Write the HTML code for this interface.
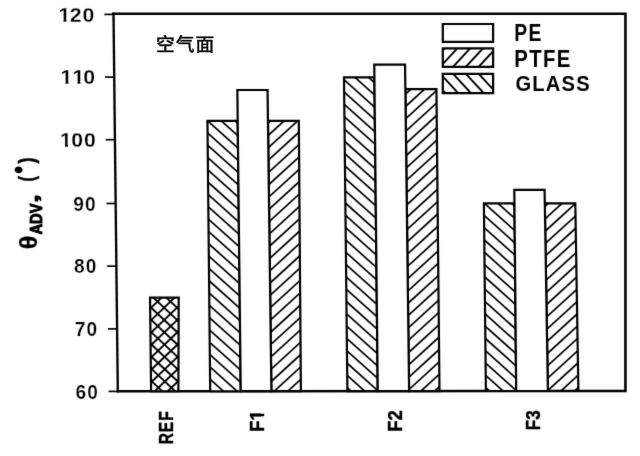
<!DOCTYPE html>
<html lang="zh">
<head>
<meta charset="utf-8">
<title>θADV chart</title>
<style>
html,body{margin:0;padding:0;background:#fff;}
body{width:640px;height:456px;overflow:hidden;}
svg{display:block;}
text{white-space:pre;font-kerning:none;}
</style>
</head>
<body>
<svg width="640" height="456" viewBox="0 0 640 456">
<defs><filter id="soft" x="0" y="0" width="640" height="456" filterUnits="userSpaceOnUse" color-interpolation-filters="sRGB"><feConvolveMatrix order="3" kernelMatrix="0 1 0 1 7 1 0 1 0" edgeMode="duplicate" preserveAlpha="true"/></filter></defs>
<rect width="640" height="456" fill="#fff"/>
<g filter="url(#soft)">
<rect width="640" height="456" fill="#fff"/>
<path d="M112.4,13.75L625.45,13.75L625.45,390.9L116.7,391.3" fill="none" stroke="#000" stroke-width="2.6" stroke-linejoin="miter"/>
<path d="M113.5,13.75L117.8,391.3" fill="none" stroke="#000" stroke-width="2.35" stroke-linecap="square"/>
<path d="M104.31,14.4L113.51,14.4" stroke="#000" stroke-width="1.7"/>
<path d="M105.02,77.1L114.22,77.1" stroke="#000" stroke-width="1.7"/>
<path d="M105.73,139.7L114.93,139.7" stroke="#000" stroke-width="1.7"/>
<path d="M106.46,203.5L115.66,203.5" stroke="#000" stroke-width="1.7"/>
<path d="M107.17,266.1L116.37,266.1" stroke="#000" stroke-width="1.7"/>
<path d="M107.89,328.9L117.09,328.9" stroke="#000" stroke-width="1.7"/>
<path d="M108.60,391.4L117.80,391.4" stroke="#000" stroke-width="1.7"/>
<clipPath id="k1"><path clip-rule="evenodd" d="M-20.4,-40.8H54.8V20.4H-20.4ZM-0.30,-2.78H4.77V5.11H-0.30ZM7.57,-2.78H11.77V5.11H7.57Z"/></clipPath>
<text transform="translate(58.59,21.65) scale(1.0400,1)" dx="0.000 -0.577 0.865" font-family='"Liberation Sans", sans-serif' font-weight="bold" font-size="20.42" fill="#000" stroke="#fff" stroke-width="0.25" clip-path="url(#k1)">120</text>
<clipPath id="k2"><path clip-rule="evenodd" d="M-20.4,-40.8H53.6V20.4H-20.4ZM-0.30,-2.78H4.77V5.11H-0.30ZM7.57,-2.78H16.22V5.11H7.57ZM19.02,-2.78H23.22V5.11H19.02Z"/></clipPath>
<text transform="translate(60.59,84.35) scale(1.0400,1)" dx="0.000 0.096 -1.010" font-family='"Liberation Sans", sans-serif' font-weight="bold" font-size="20.42" fill="#000" stroke="#fff" stroke-width="0.25" clip-path="url(#k2)">110</text>
<clipPath id="k3"><path clip-rule="evenodd" d="M-20.4,-40.8H54.8V20.4H-20.4ZM-0.30,-2.78H4.77V5.11H-0.30ZM7.57,-2.78H11.77V5.11H7.57Z"/></clipPath>
<text transform="translate(60.08,146.95) scale(1.0400,1)" dx="0.000 -0.577 0.865" font-family='"Liberation Sans", sans-serif' font-weight="bold" font-size="20.42" fill="#000" stroke="#fff" stroke-width="0.25" clip-path="url(#k3)">100</text>
<text transform="translate(73.22,210.89) scale(0.9300,1)" dx="0.000 1.290" font-family='"Liberation Sans", sans-serif' font-weight="bold" font-size="20.56" fill="#000" stroke="#fff" stroke-width="0.25">90</text>
<text transform="translate(73.97,273.49) scale(0.9300,1)" dx="0.000 1.290" font-family='"Liberation Sans", sans-serif' font-weight="bold" font-size="20.56" fill="#000" stroke="#fff" stroke-width="0.25">80</text>
<text transform="translate(74.71,336.29) scale(0.9300,1)" dx="0.000 1.290" font-family='"Liberation Sans", sans-serif' font-weight="bold" font-size="20.56" fill="#000" stroke="#fff" stroke-width="0.25">70</text>
<text transform="translate(75.46,398.79) scale(0.9300,1)" dx="0.000 1.290" font-family='"Liberation Sans", sans-serif' font-weight="bold" font-size="20.56" fill="#000" stroke="#fff" stroke-width="0.25">60</text>
<clipPath id="c1"><polygon points="150.05,297.60 178.70,297.60 178.40,391.25 151.10,391.27"/></clipPath>
<polygon points="150.05,297.60 178.70,297.60 178.40,391.25 151.10,391.27" fill="#fff"/>
<g clip-path="url(#c1)"><path transform="matrix(1,0,0.0108,1,-3.323,0)" d="M144.05,239.48L184.70,278.10M144.05,251.78L184.70,290.40M144.05,264.08L184.70,302.70M144.05,276.38L184.70,315.00M144.05,288.68L184.70,327.30M144.05,300.98L184.70,339.60M144.05,313.28L184.70,351.90M144.05,325.58L184.70,364.20M144.05,337.88L184.70,376.50M144.05,350.18L184.70,388.80M144.05,362.48L184.70,401.10M144.05,374.78L184.70,413.40M144.05,387.08L184.70,425.70M144.05,399.38L184.70,438.00M144.05,411.68L184.70,450.30M144.05,277.52L184.70,238.90M144.05,289.82L184.70,251.20M144.05,302.12L184.70,263.50M144.05,314.42L184.70,275.80M144.05,326.72L184.70,288.10M144.05,339.02L184.70,300.40M144.05,351.32L184.70,312.70M144.05,363.62L184.70,325.00M144.05,375.92L184.70,337.30M144.05,388.22L184.70,349.60M144.05,400.52L184.70,361.90M144.05,412.82L184.70,374.20M144.05,425.12L184.70,386.50M144.05,437.42L184.70,398.80M144.05,449.72L184.70,411.10" stroke="#000" stroke-width="1.9" fill="none"/></g>
<polygon points="150.05,297.60 178.70,297.60 178.40,391.25 151.10,391.27" fill="none" stroke="#000" stroke-width="2.2" stroke-linejoin="miter"/>
<clipPath id="c2"><polygon points="207.45,120.85 237.70,120.85 240.75,391.20 210.20,391.23"/></clipPath>
<polygon points="207.45,120.85 237.70,120.85 240.75,391.20 210.20,391.23" fill="#fff"/>
<g clip-path="url(#c2)"><path transform="matrix(1,0,0.0108,1,-1.452,0)" d="M201.45,65.81L246.75,106.81M201.45,78.13L246.75,119.13M201.45,90.45L246.75,131.45M201.45,102.77L246.75,143.77M201.45,115.09L246.75,156.09M201.45,127.41L246.75,168.41M201.45,139.73L246.75,180.73M201.45,152.05L246.75,193.05M201.45,164.37L246.75,205.37M201.45,176.69L246.75,217.69M201.45,189.01L246.75,230.01M201.45,201.33L246.75,242.33M201.45,213.65L246.75,254.65M201.45,225.97L246.75,266.97M201.45,238.29L246.75,279.29M201.45,250.61L246.75,291.61M201.45,262.93L246.75,303.93M201.45,275.25L246.75,316.25M201.45,287.57L246.75,328.57M201.45,299.89L246.75,340.89M201.45,312.21L246.75,353.21M201.45,324.53L246.75,365.53M201.45,336.85L246.75,377.85M201.45,349.17L246.75,390.17M201.45,361.49L246.75,402.49M201.45,373.81L246.75,414.81M201.45,386.13L246.75,427.13M201.45,398.45L246.75,439.45M201.45,410.77L246.75,451.77" stroke="#000" stroke-width="1.7" fill="none"/></g>
<polygon points="207.45,120.85 237.70,120.85 240.75,391.20 210.20,391.23" fill="none" stroke="#000" stroke-width="2.2" stroke-linejoin="miter"/>
<clipPath id="c3"><polygon points="267.95,120.85 298.80,120.85 300.90,391.16 271.40,391.18"/></clipPath>
<polygon points="267.95,120.85 298.80,120.85 300.90,391.16 271.40,391.18" fill="#fff"/>
<g clip-path="url(#c3)"><path transform="matrix(1,0,0.0108,1,-1.453,0)" d="M261.95,104.10L306.90,63.42M261.95,116.42L306.90,75.74M261.95,128.74L306.90,88.06M261.95,141.06L306.90,100.38M261.95,153.38L306.90,112.70M261.95,165.70L306.90,125.02M261.95,178.02L306.90,137.34M261.95,190.34L306.90,149.66M261.95,202.66L306.90,161.98M261.95,214.98L306.90,174.30M261.95,227.30L306.90,186.62M261.95,239.62L306.90,198.94M261.95,251.94L306.90,211.26M261.95,264.26L306.90,223.58M261.95,276.58L306.90,235.90M261.95,288.90L306.90,248.22M261.95,301.22L306.90,260.54M261.95,313.54L306.90,272.86M261.95,325.86L306.90,285.18M261.95,338.18L306.90,297.50M261.95,350.50L306.90,309.82M261.95,362.82L306.90,322.14M261.95,375.14L306.90,334.46M261.95,387.46L306.90,346.78M261.95,399.78L306.90,359.10M261.95,412.10L306.90,371.42M261.95,424.42L306.90,383.74M261.95,436.74L306.90,396.06M261.95,449.06L306.90,408.38" stroke="#000" stroke-width="1.7" fill="none"/></g>
<polygon points="267.95,120.85 298.80,120.85 300.90,391.16 271.40,391.18" fill="none" stroke="#000" stroke-width="2.2" stroke-linejoin="miter"/>
<clipPath id="c4"><polygon points="237.35,90.00 267.56,90.00 271.40,391.18 240.75,391.20"/></clipPath>
<polygon points="237.35,90.00 267.56,90.00 271.40,391.18 240.75,391.20" fill="#fff"/>
<polygon points="237.35,90.00 267.56,90.00 271.40,391.18 240.75,391.20" fill="none" stroke="#000" stroke-width="2.2" stroke-linejoin="miter"/>
<clipPath id="c5"><polygon points="344.00,77.30 374.40,77.30 377.75,391.10 347.40,391.12"/></clipPath>
<polygon points="344.00,77.30 374.40,77.30 377.75,391.10 347.40,391.12" fill="#fff"/>
<g clip-path="url(#c5)"><path transform="matrix(1,0,0.0108,1,-1.013,0)" d="M338.00,12.57L383.75,53.98M338.00,24.89L383.75,66.30M338.00,37.21L383.75,78.62M338.00,49.53L383.75,90.94M338.00,61.85L383.75,103.26M338.00,74.17L383.75,115.58M338.00,86.49L383.75,127.90M338.00,98.81L383.75,140.22M338.00,111.13L383.75,152.54M338.00,123.45L383.75,164.86M338.00,135.77L383.75,177.18M338.00,148.09L383.75,189.50M338.00,160.41L383.75,201.82M338.00,172.73L383.75,214.14M338.00,185.05L383.75,226.46M338.00,197.37L383.75,238.78M338.00,209.69L383.75,251.10M338.00,222.01L383.75,263.42M338.00,234.33L383.75,275.74M338.00,246.65L383.75,288.06M338.00,258.97L383.75,300.38M338.00,271.29L383.75,312.70M338.00,283.61L383.75,325.02M338.00,295.93L383.75,337.34M338.00,308.25L383.75,349.66M338.00,320.57L383.75,361.98M338.00,332.89L383.75,374.30M338.00,345.21L383.75,386.62M338.00,357.53L383.75,398.94M338.00,369.85L383.75,411.26M338.00,382.17L383.75,423.58M338.00,394.49L383.75,435.90M338.00,406.81L383.75,448.22" stroke="#000" stroke-width="1.7" fill="none"/></g>
<polygon points="344.00,77.30 374.40,77.30 377.75,391.10 347.40,391.12" fill="none" stroke="#000" stroke-width="2.2" stroke-linejoin="miter"/>
<clipPath id="c6"><polygon points="405.35,89.20 436.42,89.20 439.50,391.05 409.10,391.07"/></clipPath>
<polygon points="405.35,89.20 436.42,89.20 439.50,391.05 409.10,391.07" fill="#fff"/>
<g clip-path="url(#c6)"><path transform="matrix(1,0,0.0108,1,-1.144,0)" d="M399.35,75.14L445.50,33.37M399.35,87.46L445.50,45.69M399.35,99.78L445.50,58.01M399.35,112.10L445.50,70.33M399.35,124.42L445.50,82.65M399.35,136.74L445.50,94.97M399.35,149.06L445.50,107.29M399.35,161.38L445.50,119.61M399.35,173.70L445.50,131.93M399.35,186.02L445.50,144.25M399.35,198.34L445.50,156.57M399.35,210.66L445.50,168.89M399.35,222.98L445.50,181.21M399.35,235.30L445.50,193.53M399.35,247.62L445.50,205.85M399.35,259.94L445.50,218.17M399.35,272.26L445.50,230.49M399.35,284.58L445.50,242.81M399.35,296.90L445.50,255.13M399.35,309.22L445.50,267.45M399.35,321.54L445.50,279.77M399.35,333.86L445.50,292.09M399.35,346.18L445.50,304.41M399.35,358.50L445.50,316.73M399.35,370.82L445.50,329.05M399.35,383.14L445.50,341.37M399.35,395.46L445.50,353.69M399.35,407.78L445.50,366.01M399.35,420.10L445.50,378.33M399.35,432.42L445.50,390.65M399.35,444.74L445.50,402.97M399.35,457.06L445.50,415.29" stroke="#000" stroke-width="1.7" fill="none"/></g>
<polygon points="405.35,89.20 436.42,89.20 439.50,391.05 409.10,391.07" fill="none" stroke="#000" stroke-width="2.2" stroke-linejoin="miter"/>
<clipPath id="c7"><polygon points="374.26,64.60 405.04,64.60 409.10,391.07 377.75,391.10"/></clipPath>
<polygon points="374.26,64.60 405.04,64.60 409.10,391.07 377.75,391.10" fill="#fff"/>
<polygon points="374.26,64.60 405.04,64.60 409.10,391.07 377.75,391.10" fill="none" stroke="#000" stroke-width="2.2" stroke-linejoin="miter"/>
<clipPath id="c8"><polygon points="483.90,203.40 514.45,203.40 516.20,390.99 485.90,391.01"/></clipPath>
<polygon points="483.90,203.40 514.45,203.40 516.20,390.99 485.90,391.01" fill="#fff"/>
<g clip-path="url(#c8)"><path transform="matrix(1,0,0.0108,1,-2.345,0)" d="M477.90,148.10L522.20,188.19M477.90,160.42L522.20,200.51M477.90,172.74L522.20,212.83M477.90,185.06L522.20,225.15M477.90,197.38L522.20,237.47M477.90,209.70L522.20,249.79M477.90,222.02L522.20,262.11M477.90,234.34L522.20,274.43M477.90,246.66L522.20,286.75M477.90,258.98L522.20,299.07M477.90,271.30L522.20,311.39M477.90,283.62L522.20,323.71M477.90,295.94L522.20,336.03M477.90,308.26L522.20,348.35M477.90,320.58L522.20,360.67M477.90,332.90L522.20,372.99M477.90,345.22L522.20,385.31M477.90,357.54L522.20,397.63M477.90,369.86L522.20,409.95M477.90,382.18L522.20,422.27M477.90,394.50L522.20,434.59M477.90,406.82L522.20,446.91" stroke="#000" stroke-width="1.7" fill="none"/></g>
<polygon points="483.90,203.40 514.45,203.40 516.20,390.99 485.90,391.01" fill="none" stroke="#000" stroke-width="2.2" stroke-linejoin="miter"/>
<clipPath id="c9"><polygon points="544.80,203.40 575.30,203.40 578.40,390.94 547.90,390.96"/></clipPath>
<polygon points="544.80,203.40 575.30,203.40 578.40,390.94 547.90,390.96" fill="#fff"/>
<g clip-path="url(#c9)"><path transform="matrix(1,0,0.0108,1,-2.343,0)" d="M538.80,187.54L584.40,146.27M538.80,199.86L584.40,158.59M538.80,212.18L584.40,170.91M538.80,224.50L584.40,183.23M538.80,236.82L584.40,195.55M538.80,249.14L584.40,207.87M538.80,261.46L584.40,220.19M538.80,273.78L584.40,232.51M538.80,286.10L584.40,244.83M538.80,298.42L584.40,257.15M538.80,310.74L584.40,269.47M538.80,323.06L584.40,281.79M538.80,335.38L584.40,294.11M538.80,347.70L584.40,306.43M538.80,360.02L584.40,318.75M538.80,372.34L584.40,331.07M538.80,384.66L584.40,343.39M538.80,396.98L584.40,355.71M538.80,409.30L584.40,368.03M538.80,421.62L584.40,380.35M538.80,433.94L584.40,392.67M538.80,446.26L584.40,404.99" stroke="#000" stroke-width="1.7" fill="none"/></g>
<polygon points="544.80,203.40 575.30,203.40 578.40,390.94 547.90,390.96" fill="none" stroke="#000" stroke-width="2.2" stroke-linejoin="miter"/>
<clipPath id="c10"><polygon points="514.32,189.90 544.58,189.90 547.90,390.96 516.20,390.99"/></clipPath>
<polygon points="514.32,189.90 544.58,189.90 547.90,390.96 516.20,390.99" fill="#fff"/>
<polygon points="514.32,189.90 544.58,189.90 547.90,390.96 516.20,390.99" fill="none" stroke="#000" stroke-width="2.2" stroke-linejoin="miter"/>
<clipPath id="c11"><polygon points="442.80,24.00 493.10,24.00 493.10,41.90 442.80,41.90"/></clipPath>
<polygon points="442.80,24.00 493.10,24.00 493.10,41.90 442.80,41.90" fill="#fff"/>
<polygon points="442.80,24.00 493.10,24.00 493.10,41.90 442.80,41.90" fill="none" stroke="#000" stroke-width="2.2" stroke-linejoin="miter"/>
<clipPath id="c12"><polygon points="442.80,48.35 493.10,48.35 493.10,66.80 442.80,66.80"/></clipPath>
<polygon points="442.80,48.35 493.10,48.35 493.10,66.80 442.80,66.80" fill="#fff"/>
<g clip-path="url(#c12)"><path transform="matrix(1,0,0,1,0.000,0)" d="M436.80,29.09L499.10,-38.20M436.80,42.91L499.10,-24.37M436.80,56.74L499.10,-10.55M436.80,70.56L499.10,3.28M436.80,84.38L499.10,17.10M436.80,98.21L499.10,30.92M436.80,112.03L499.10,44.75M436.80,125.86L499.10,58.57M436.80,139.68L499.10,72.40M436.80,153.50L499.10,86.22" stroke="#000" stroke-width="1.9" fill="none"/></g>
<polygon points="442.80,48.35 493.10,48.35 493.10,66.80 442.80,66.80" fill="none" stroke="#000" stroke-width="2.2" stroke-linejoin="miter"/>
<clipPath id="c13"><polygon points="442.80,73.90 493.10,73.90 493.10,93.10 442.80,93.10"/></clipPath>
<polygon points="442.80,73.90 493.10,73.90 493.10,93.10 442.80,93.10" fill="#fff"/>
<g clip-path="url(#c13)"><path transform="matrix(1,0,0,1,0.000,0)" d="M436.80,-12.90L499.10,54.38M436.80,0.92L499.10,68.20M436.80,14.74L499.10,82.03M436.80,28.57L499.10,95.85M436.80,42.39L499.10,109.68M436.80,56.22L499.10,123.50M436.80,70.04L499.10,137.32M436.80,83.86L499.10,151.15M436.80,97.69L499.10,164.97M436.80,111.51L499.10,178.80" stroke="#000" stroke-width="1.9" fill="none"/></g>
<polygon points="442.80,73.90 493.10,73.90 493.10,93.10 442.80,93.10" fill="none" stroke="#000" stroke-width="2.2" stroke-linejoin="miter"/>
<text transform="translate(514.24,40.50) scale(0.8293,1)" font-family='"Liberation Sans", sans-serif' font-weight="bold" font-size="23.33" letter-spacing="1.688" fill="#000">PE</text>
<text transform="translate(514.18,66.80) scale(0.8766,1)" font-family='"Liberation Sans", sans-serif' font-weight="bold" font-size="23.19" letter-spacing="1.597" fill="#000">PTFE</text>
<text transform="translate(515.39,91.17) scale(0.8885,1)" font-family='"Liberation Sans", sans-serif' font-weight="bold" font-size="22.68" letter-spacing="1.351" fill="#000">GLASS</text>
<text transform="translate(172.70,444.31) rotate(-90) scale(0.7570,1)" font-family='"Liberation Sans", sans-serif' font-weight="bold" font-size="20.58" letter-spacing="1.189" fill="#000" stroke="#000" stroke-width="0.4" stroke-linejoin="round">REF</text>
<clipPath id="k4"><path clip-rule="evenodd" d="M-20.4,-40.9H44.3V20.4H-20.4ZM12.18,-2.78H17.25V5.11H12.18ZM20.06,-2.78H24.26V5.11H20.06Z"/></clipPath>
<text transform="translate(263.80,431.68) rotate(-90) scale(0.8917,1)" font-family='"Liberation Sans", sans-serif' font-weight="bold" font-size="20.43" fill="#000" stroke="#000" stroke-width="0.4" stroke-linejoin="round" clip-path="url(#k4)">F1</text>
<text transform="translate(401.80,431.70) rotate(-90) scale(0.8926,1)" font-family='"Liberation Sans", sans-serif' font-weight="bold" font-size="20.71" fill="#000" stroke="#000" stroke-width="0.4" stroke-linejoin="round">F2</text>
<text transform="translate(539.60,430.32) rotate(-90) scale(0.8414,1)" font-family='"Liberation Sans", sans-serif' font-weight="bold" font-size="20.42" fill="#000" stroke="#000" stroke-width="0.4" stroke-linejoin="round">F3</text>
<text transform="translate(37.36,249.33) rotate(-90) scale(1.0669,1)" font-family='"Liberation Sans", sans-serif' font-weight="bold" font-size="23.54" fill="#000" stroke="#000" stroke-width="0.35" stroke-linejoin="round">θ</text>
<text transform="translate(41.60,234.57) rotate(-90) scale(0.9399,1)" font-family='"Liberation Sans", sans-serif' font-weight="bold" font-size="15.65" fill="#000" stroke="#000" stroke-width="0.9" stroke-linejoin="round">ADV</text>
<text transform="translate(37.60,203.50) rotate(-90) scale(1.8462,1)" font-family='"Liberation Sans", sans-serif' font-weight="bold" font-size="19.34" fill="#000" stroke="#000" stroke-width="0.5" stroke-linejoin="round">,</text>
<text transform="translate(33.97,181.25) rotate(-90) scale(0.6523,1)" font-family='"Liberation Sans", sans-serif' font-weight="bold" font-size="22.99" fill="#000" stroke="#000" stroke-width="0.6" stroke-linejoin="round">(</text>
<text transform="translate(28.13,172.65) rotate(-90) scale(0.8182,1)" font-family='"Liberation Sans", sans-serif' font-weight="bold" font-size="17.74" fill="#000" stroke="#000" stroke-width="2.6" stroke-linejoin="round">°</text>
<text transform="translate(33.97,163.40) rotate(-90) scale(0.7782,1)" font-family='"Liberation Sans", sans-serif' font-weight="bold" font-size="22.99" fill="#000" stroke="#000" stroke-width="0.6" stroke-linejoin="round">)</text>
</g>
<text transform="translate(155.99,50.67) scale(1.0429,1)" font-family='"Liberation Sans", "Noto Sans CJK SC", sans-serif' font-weight="500" font-size="17.98" letter-spacing="0.959" fill="#111" stroke="#111" stroke-width="0.3" stroke-linejoin="round">空气面</text>
</svg>
</body>
</html>
